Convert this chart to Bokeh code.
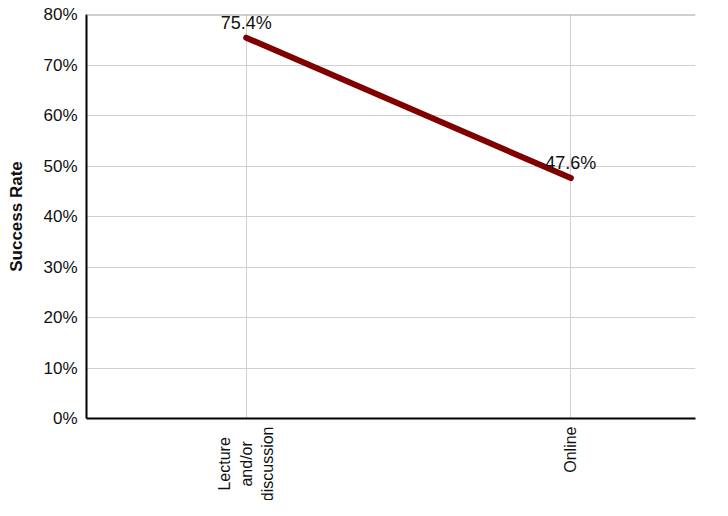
import math
from bokeh.plotting import figure
from bokeh.models import ColumnDataSource, FixedTicker, Span, Range1d, PrintfTickFormatter, Label
from bokeh.core.properties import value
from bokeh.embed import file_html
from bokeh.resources import INLINE

categories = ["Lecture\nand/or\ndiscussion", "Online"]
success_rate = [75.4, 47.6]
y_ticks = [0, 10, 20, 30, 40, 50, 60, 70, 80]

xs = [i + 0.5 for i in range(len(categories))]
labels = ["%.1f%%" % v for v in success_rate]
src = ColumnDataSource(dict(x=xs, y=success_rate, label=labels))

FONT = "Liberation Sans"

p = figure(width=712, height=500, output_backend="svg", toolbar_location=None,
           x_range=Range1d(0.008, 1.884), y_range=Range1d(0, 80),
           min_border_left=86, min_border_top=14, min_border_right=0, min_border_bottom=82)
p.outline_line_color = None

p.line("x", "y", source=src, line_color="#800000", line_width=6, line_cap="round")
p.text("x", "y", text="label", source=src, text_align="center", text_baseline="bottom",
       y_offset=-5, text_font=value(FONT), text_font_size="18px", text_color="#111111")

p.add_layout(Span(location=y_ticks[-1], dimension="width", line_color="#a0a0a0", line_width=2))

# category labels (rotated, multi-line, centred lines, top-anchored under the axis)
sides = ["below", "right"]
for x, c, side in zip(xs, categories, sides):
    p.add_layout(Label(x=x, y=y_ticks[0], y_offset=-8, text=c, angle=math.pi / 2,
                       anchor="center_right", text_align="center",
                       text_font=FONT, text_font_size="16px", text_color="#111111",
                       text_line_height=1.25), side)

p.xgrid.ticker = FixedTicker(ticks=xs)
p.xaxis.ticker = FixedTicker(ticks=[])
p.yaxis.ticker = FixedTicker(ticks=y_ticks)
p.yaxis.formatter = PrintfTickFormatter(format="%d%%")

for ax in (p.xaxis, p.yaxis):
    ax.axis_line_color = "black"
    ax.axis_line_width = 2
    ax.major_tick_line_color = None
    ax.minor_tick_line_color = None
    ax.major_tick_out = 0
    ax.major_tick_in = 0

p.yaxis.major_label_standoff = 9
p.yaxis.major_label_text_font = FONT
p.yaxis.major_label_text_font_size = "17px"
p.yaxis.major_label_text_color = "#111111"

p.yaxis.axis_label = "Success Rate"
p.yaxis.axis_label_text_font = FONT
p.yaxis.axis_label_text_font_style = "bold"
p.yaxis.axis_label_text_font_size = "17px"
p.yaxis.axis_label_text_color = "#111111"
p.yaxis.axis_label_standoff = 14

p.xgrid.grid_line_color = "#d0d0d0"
p.ygrid.grid_line_color = "#d0d0d0"
p.xgrid.grid_line_width = 1
p.ygrid.grid_line_width = 1

open("out.html", "w").write(file_html(p, INLINE))
